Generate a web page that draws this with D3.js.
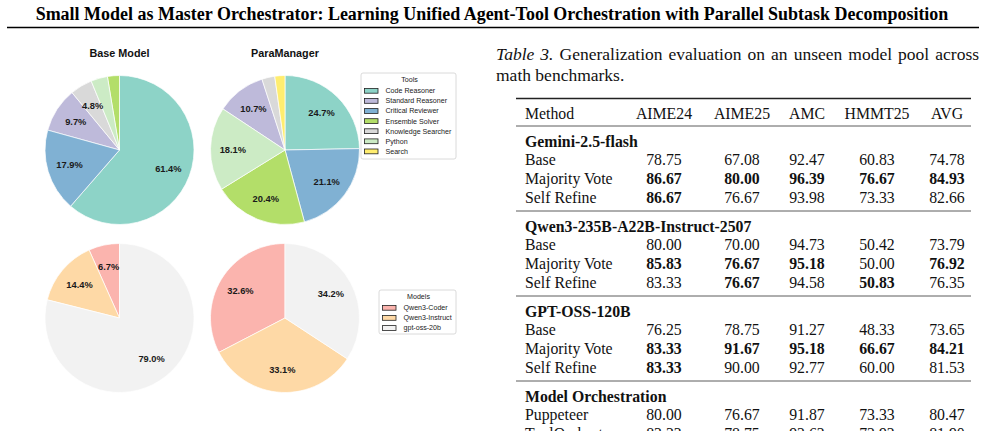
<!DOCTYPE html>
<html><head><meta charset="utf-8">
<script src="https://cdn.jsdelivr.net/npm/d3@7/dist/d3.min.js"></script>
<style>
html,body{margin:0;padding:0;background:#fff;}
svg{display:block;}
</style></head>
<body>
<svg id="c" width="985" height="431"></svg>
<script>
// ---------- data ----------
const tools = ["Code Reasoner","Standard Reasoner","Critical Reviewer","Ensemble Solver","Knowledge Searcher","Python","Search"];
const toolColors = ["#8dd3c7","#bebada","#80b1d3","#b3de69","#d9d9d9","#ccebc5","#ffed6f"];
const baseToolShares = [61.4, 9.7, 17.9, 2.6, 4.8, 3.6, 0];
const paraToolShares = [24.7, 10.7, 21.1, 20.4, 2.8, 18.1, 2.2];
const models = ["Qwen3-Coder","Qwen3-Instruct","gpt-oss-20b"];
const modelColors = ["#fbb4ae","#fed9a6","#f2f2f2"];
const baseModelShares = [6.7, 14.4, 79.0];
const paraModelShares = [32.6, 33.1, 34.2];
const pieTitles = ["Base Model","ParaManager"];

const paperTitle = "Small Model as Master Orchestrator: Learning Unified Agent-Tool Orchestration with Parallel Subtask Decomposition";
const captionLabel = "Table 3.";
const captionLine1 = " Generalization evaluation on an unseen model pool across";
const captionLine2 = "math benchmarks.";

const columns = ["Method","AIME24","AIME25","AMC","HMMT25","AVG"];
const groups = ["Gemini-2.5-flash","Qwen3-235B-A22B-Instruct-2507","GPT-OSS-120B","Model Orchestration"];
const groupMethods = [
  ["Base","Majority Vote","Self Refine"],
  ["Base","Majority Vote","Self Refine"],
  ["Base","Majority Vote","Self Refine"],
  ["Puppeteer","ToolOrchestra"]
];
const groupValues = [
  [[78.75,67.08,92.47,60.83,74.78],[86.67,80.00,96.39,76.67,84.93],[86.67,76.67,93.98,73.33,82.66]],
  [[80.00,70.00,94.73,50.42,73.79],[85.83,76.67,95.18,50.00,76.92],[83.33,76.67,94.58,50.83,76.35]],
  [[76.25,78.75,91.27,48.33,73.65],[83.33,91.67,95.18,66.67,84.21],[83.33,90.00,92.77,60.00,81.53]],
  [[80.00,76.67,91.87,73.33,80.47],[83.33,78.75,92.62,72.92,81.90]]
];
const groupBold = [
  [[0,0,0,0,0],[1,1,1,1,1],[1,0,0,0,0]],
  [[0,0,0,0,0],[1,1,1,0,1],[0,1,0,1,0]],
  [[0,0,0,0,0],[1,1,1,1,1],[1,0,0,0,0]],
  [[0,0,0,0,0],[0,0,0,0,0]]
];

// ---------- drawing ----------
const svg = d3.select("#c");
const SERIF = "'Liberation Serif','Times New Roman',Times,serif";
const SANS = "'Liberation Sans',Arial,Helvetica,sans-serif";

// paper title, fitted to width
const t = svg.append("text").attr("x", 492).attr("y", 20).attr("text-anchor","middle")
  .attr("font-family", SERIF).attr("font-weight","bold").attr("font-size",16).text(paperTitle);
const tl = t.node().getComputedTextLength();
t.attr("font-size", 16*913/tl);
svg.append("line").attr("x1",7).attr("x2",979).attr("y1",27.5).attr("y2",27.5)
  .attr("stroke","#000").attr("stroke-width",1.6);

// pies
const R = 74.5;
const pie = d3.pie().value(d=>d.v).sort((a,b)=>b.v-a.v);
const arc = d3.arc().innerRadius(0).outerRadius(R);
const lab = d3.arc().innerRadius(R*0.7).outerRadius(R*0.7);
const centersX = [119.5, 285];
const centersY = [150, 318];
const pieData = [
  [baseToolShares, paraToolShares, tools, toolColors],
  [baseModelShares, paraModelShares, models, modelColors]
];
pieData.forEach((row, ri)=>{
  [row[0], row[1]].forEach((vals, ci)=>{
    const data = vals.map((v,i)=>({v, c: row[3][i], n: row[2][i]})).filter(d=>d.v>0);
    const g = svg.append("g").attr("transform",`translate(${centersX[ci]},${centersY[ri]})`);
    const arcs = pie(data);
    g.selectAll("path").data(arcs).join("path").attr("d",arc)
      .attr("fill",d=>d.data.c).attr("stroke","#fff").attr("stroke-width",0.7);
    g.selectAll("text").data(arcs.filter(d=>d.data.v>=4)).join("text")
      .attr("transform",d=>`translate(${lab.centroid(d)})`)
      .attr("text-anchor","middle").attr("dy","0.36em")
      .attr("font-family",SANS).attr("font-weight","bold").attr("font-size",9.3).attr("fill","#1a1a1a")
      .text(d=>d.data.v.toFixed(1)+"%");
  });
});
pieTitles.forEach((tt,i)=>{
  svg.append("text").attr("x",centersX[i]).attr("y",57).attr("text-anchor","middle")
    .attr("font-family",SANS).attr("font-weight","bold").attr("font-size",10.8).attr("fill","#111").text(tt);
});

// legends
function legend(x0,y0,w,h,title,names,colors){
  const g = svg.append("g");
  g.append("rect").attr("x",x0).attr("y",y0).attr("width",w).attr("height",h).attr("rx",2)
    .attr("fill","#fff").attr("stroke","#d0d0d0").attr("stroke-width",0.8);
  g.append("text").attr("x",x0+w/2+1).attr("y",y0+8.5).attr("text-anchor","middle")
    .attr("font-family",SANS).attr("font-size",7.1).attr("fill","#222").text(title);
  names.forEach((n,i)=>{
    const cy = y0+17.8+i*10.1;
    g.append("rect").attr("x",x0+3.5).attr("y",cy-2.4).attr("width",13.5).attr("height",4.8)
      .attr("fill",colors[i]).attr("stroke","#222").attr("stroke-width",0.8);
    g.append("text").attr("x",x0+24.5).attr("y",cy).attr("dy","0.35em")
      .attr("font-family",SANS).attr("font-size",7.1).attr("fill","#222").text(n);
  });
}
legend(361,73,95,86,"Tools",tools,toolColors);
legend(379,290,77,44,"Models",models,modelColors);

// caption (first line justified to the column width, as in the paper)
const CFS = 17.5;
const cap = svg.append("text").attr("x",496).attr("y",60).attr("font-family",SERIF).attr("font-size",CFS).attr("fill","#111");
cap.append("tspan").attr("font-style","italic").text(captionLabel);
cap.append("tspan").text(captionLine1);
const capLen = cap.node().getComputedTextLength();
const nSpaces = (captionLabel + captionLine1).split(" ").length - 1;
const extra = Math.max(0, (979 - 496 - capLen)/nSpaces);
cap.style("word-spacing", extra + "px");
svg.append("text").attr("x",496).attr("y",81).attr("font-family",SERIF).attr("font-size",CFS).attr("fill","#111").text(captionLine2);

// table
const colCenters = d3.scaleOrdinal().domain(columns.slice(1)).range([664,742,807,877,947]);
const FS = 15.8;
const xLeft = 525, xR0 = 516, xR1 = 971;
svg.append("line").attr("x1",xR0).attr("x2",xR1).attr("y1",98.5).attr("y2",98.5).attr("stroke","#222").attr("stroke-width",1.3);
svg.append("text").attr("x",xLeft).attr("y",113).attr("dy","0.35em").attr("font-family",SERIF).attr("font-size",FS).attr("fill","#111").text(columns[0]);
columns.slice(1).forEach(c=>{
  svg.append("text").attr("x",colCenters(c)).attr("y",113).attr("dy","0.35em").attr("text-anchor","middle")
    .attr("font-family",SERIF).attr("font-size",FS).attr("fill","#111").text(c);
});
const groupTop = [126, 211, 296, 381];
groups.forEach((gname,gi)=>{
  const y0 = groupTop[gi];
  svg.append("line").attr("x1",xR0).attr("x2",xR1).attr("y1",y0).attr("y2",y0).attr("stroke","#333").attr("stroke-width",0.8);
  svg.append("text").attr("x",xLeft).attr("y",y0+15).attr("dy","0.35em").attr("font-family",SERIF)
    .attr("font-weight","bold").attr("font-size",FS).attr("fill","#111").text(gname);
  groupMethods[gi].forEach((m,ri)=>{
    const y = y0+33.5+ri*18.9;
    svg.append("text").attr("x",xLeft).attr("y",y).attr("dy","0.35em").attr("font-family",SERIF)
      .attr("font-size",FS).attr("fill","#111").text(m);
    groupValues[gi][ri].forEach((v,ci)=>{
      svg.append("text").attr("x",colCenters(columns[ci+1])).attr("y",y).attr("dy","0.35em").attr("text-anchor","middle")
        .attr("font-family",SERIF).attr("font-size",FS).attr("fill","#111")
        .attr("font-weight",groupBold[gi][ri][ci]?"bold":"normal").text(v.toFixed(2));
    });
  });
});
</script>
</body></html>
